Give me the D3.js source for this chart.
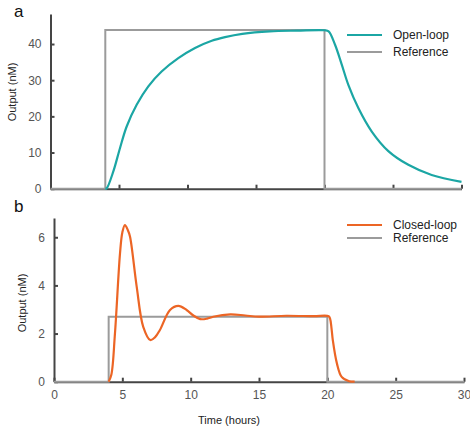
<!DOCTYPE html>
<html>
<head>
<meta charset="utf-8">
<script src="https://cdn.jsdelivr.net/npm/d3@7"></script>
<style>
  body { margin: 0; background: #fff; font-family: "Liberation Sans", Arial, sans-serif; }
  .axis path, .axis line { stroke: #454545; stroke-width: 2; }
  .axis text { fill: #555; font-size: 12px; font-family: "Liberation Sans", Arial, sans-serif; }
</style>
</head>
<body>
<div id="chart"></div>
<script>
// time ticks and values
var timeTicks = [0, 5, 10, 15, 20, 25, 30];
var openTicks = [0, 10, 20, 30, 40];
var closedTicks = [0, 2, 4, 6];

// open-loop output (t, nM)
var openT = [4.0, 4.1, 4.58, 5.07, 5.56, 6.29, 7.14, 8.11, 9.33, 10.55, 11.77, 12.74, 14, 16, 18, 20, 20.3, 20.77, 21.26, 21.74, 22.47, 23.45, 24.66, 26.12, 27.82, 30];
var openV = [0, 0.1, 4.7, 11.2, 17.2, 23.2, 28.3, 32.4, 36.1, 38.9, 40.9, 41.9, 42.8, 43.5, 43.7, 43.8, 43.5, 39.8, 34.3, 28.7, 22.3, 15.8, 10.4, 6.6, 3.8, 1.9];

// closed-loop output (t, nM)
var closedT = [4.0, 4.2, 4.46, 4.83, 5.0, 5.19, 5.4, 5.56, 6.05, 6.53, 7.05, 7.4, 7.75, 8.49, 9.1, 9.7, 10.2, 10.7, 11.2, 11.65, 12.9, 14, 15, 17, 19, 20.1, 20.2, 20.3, 20.4, 20.7, 21.05, 21.6, 22];
var closedV = [0, 0.3, 2.0, 5.33, 6.2, 6.51, 6.3, 6.03, 3.95, 2.28, 1.73, 1.85, 2.15, 2.98, 3.15, 2.98, 2.75, 2.6, 2.62, 2.7, 2.8, 2.75, 2.7, 2.74, 2.72, 2.72, 2.62, 2.25, 1.73, 0.76, 0.2, 0.02, 0];

// reference step signals
var refT = [0, 4, 4, 20, 20, 30];
var refOpen = [0, 0, 43.9, 43.9, 0, 0];
var refClosed = [0, 0, 2.7, 2.7, 0, 0];

var svg = d3.select("#chart").append("svg")
  .attr("width", 470)
  .attr("height", 432);

function panel(opt) {
  var x = d3.scaleLinear().domain([0, 30]).range([opt.x0, opt.x1]);
  var y = d3.scaleLinear().domain([0, opt.ymax]).range([opt.y0, opt.y1]);

  var xAxis = d3.axisBottom(x).tickValues(timeTicks).tickSizeInner(-4).tickSizeOuter(0).tickPadding(9);
  if (!opt.xLabels) xAxis.tickFormat("");
  svg.append("g").attr("class", "axis")
    .attr("transform", `translate(0,${opt.y0})`)
    .call(xAxis);

  svg.append("g").attr("class", "axis")
    .attr("transform", `translate(${opt.x0},0)`)
    .call(d3.axisLeft(y).tickValues(opt.yTicks).tickFormat(d3.format("d"))
      .tickSizeInner(-4).tickSizeOuter(0).tickPadding(9));

  var line = d3.line().x(d => x(d[0])).y(d => y(d[1]));
  var smooth = d3.line().curve(d3.curveCatmullRom.alpha(0.5)).x(d => x(d[0])).y(d => y(d[1]));

  svg.append("path")
    .datum(refT.map((t, i) => [t, opt.ref[i]]))
    .attr("d", line)
    .attr("fill", "none")
    .attr("stroke", "#9b9b9b")
    .attr("stroke-width", 2);

  svg.append("path")
    .datum(opt.t.map((t, i) => [t, opt.v[i]]))
    .attr("d", smooth)
    .attr("fill", "none")
    .attr("stroke", opt.color)
    .attr("stroke-width", 2.2);

  // legend
  var lg = svg.append("g");
  lg.append("line").attr("x1", 347).attr("x2", 382).attr("y1", opt.leg[0]).attr("y2", opt.leg[0])
    .attr("stroke", opt.color).attr("stroke-width", 2);
  lg.append("line").attr("x1", 347).attr("x2", 382).attr("y1", opt.leg[1]).attr("y2", opt.leg[1])
    .attr("stroke", "#9b9b9b").attr("stroke-width", 2);
  lg.append("text").attr("x", 393).attr("y", opt.leg[0] + 4).attr("font-size", 12).attr("fill", "#222").text(opt.name);
  lg.append("text").attr("x", 393).attr("y", opt.leg[1] + 4).attr("font-size", 12).attr("fill", "#222").text("Reference");

  svg.append("text")
    .attr("transform", `translate(${opt.labX},${opt.labY}) rotate(-90)`)
    .attr("text-anchor", "middle")
    .attr("font-size", 11)
    .attr("fill", "#222")
    .text("Output (nM)");

  svg.append("text")
    .attr("x", 14).attr("y", opt.letterY)
    .attr("font-size", 17)
    .attr("fill", "#111")
    .text(opt.letter);
}

panel({ x0: 50.5, x1: 461.5, y0: 188.7, y1: 14, ymax: 48.3, yTicks: openTicks,
  t: openT, v: openV, ref: refOpen, color: "#1ba6a4", name: "Open-loop",
  leg: [35, 52], labX: 16, labY: 92, letter: "a", letterY: 17, xLabels: false });

panel({ x0: 54, x1: 464, y0: 381.7, y1: 218, ymax: 6.8, yTicks: closedTicks,
  t: closedT, v: closedV, ref: refClosed, color: "#ec6525", name: "Closed-loop",
  leg: [225, 238], labX: 26, labY: 303, letter: "b", letterY: 212, xLabels: true });

svg.append("text")
  .attr("x", 229).attr("y", 424)
  .attr("text-anchor", "middle")
  .attr("font-size", 11)
  .attr("fill", "#222")
  .text("Time (hours)");
</script>
</body>
</html>
